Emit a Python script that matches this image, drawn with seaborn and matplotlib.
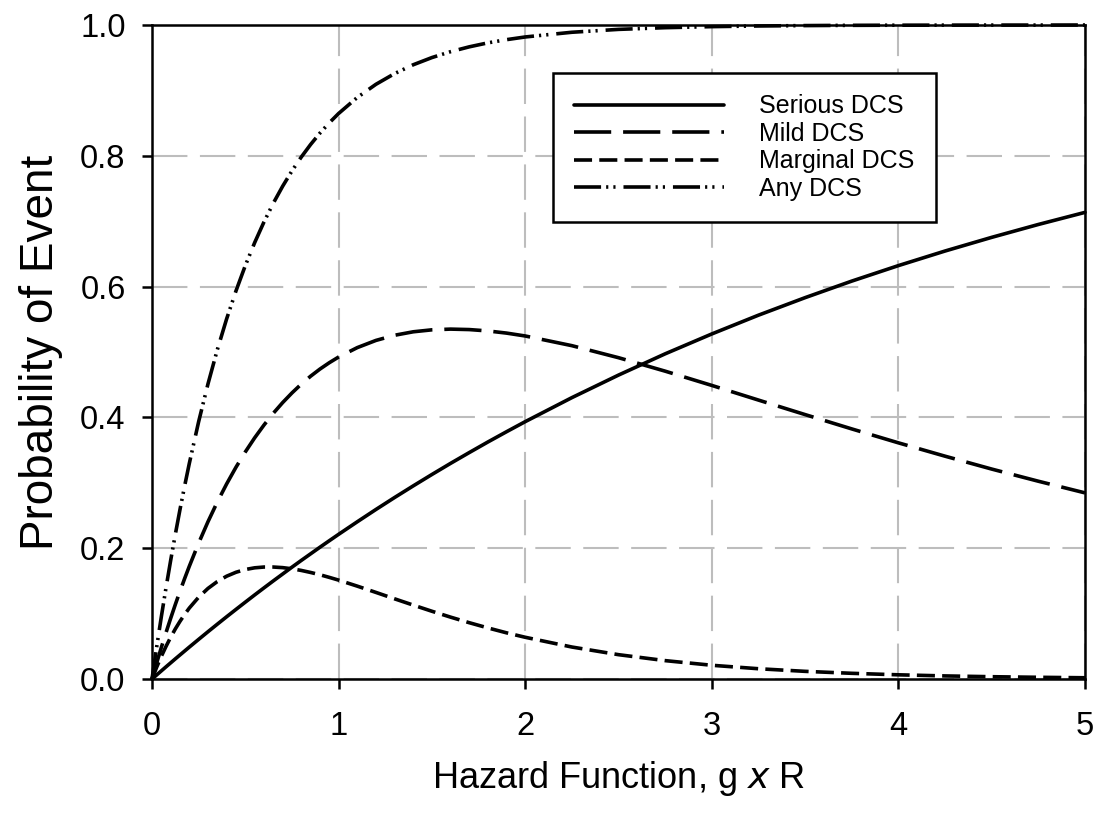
import matplotlib
matplotlib.use("Agg")
import matplotlib.pyplot as plt
import seaborn as sns
import pandas as pd

# x values (hazard function g x R)
x_vals = [0.0, 0.025, 0.05, 0.075, 0.1, 0.125, 0.15, 0.175, 0.2, 0.25, 0.3, 0.35,
          0.4, 0.45, 0.5, 0.55, 0.6, 0.65, 0.7, 0.75, 0.8, 0.85, 0.9, 0.95, 1.0,
          1.1, 1.2, 1.3, 1.4, 1.5, 1.6, 1.7, 1.8, 1.9, 2.0, 2.25, 2.5, 2.75, 3.0,
          3.25, 3.5, 3.75, 4.0, 4.25, 4.5, 4.75, 5.0]
serious = [0.0, 0.0062, 0.0124, 0.0186, 0.0247, 0.0308, 0.0368, 0.0428, 0.0488,
           0.0606, 0.0723, 0.0838, 0.0952, 0.1064, 0.1175, 0.1285, 0.1393, 0.1500,
           0.1605, 0.1710, 0.1813, 0.1914, 0.2015, 0.2114, 0.2212, 0.2404, 0.2592,
           0.2775, 0.2953, 0.3127, 0.3297, 0.3462, 0.3624, 0.3781, 0.3935, 0.4302,
           0.4647, 0.4972, 0.5276, 0.5563, 0.5831, 0.6084, 0.6321, 0.6544, 0.6753,
           0.6950, 0.7135]
mild = [0.0, 0.0245, 0.0482, 0.0709, 0.0928, 0.1139, 0.1342, 0.1537, 0.1724,
        0.2078, 0.2405, 0.2706, 0.2983, 0.3238, 0.3472, 0.3687, 0.3883, 0.4063,
        0.4226, 0.4374, 0.4509, 0.4630, 0.4739, 0.4836, 0.4923, 0.5067, 0.5177,
        0.5256, 0.5309, 0.5339, 0.5350, 0.5343, 0.5322, 0.5289, 0.5245, 0.5097,
        0.4913, 0.4707, 0.4489, 0.4265, 0.4043, 0.3824, 0.3611, 0.3407, 0.3210,
        0.3024, 0.2846]
marginal = [0.0, 0.0180, 0.0346, 0.0498, 0.0638, 0.0766, 0.0882, 0.0988, 0.1085,
            0.1251, 0.1385, 0.1490, 0.1572, 0.1632, 0.1674, 0.1700, 0.1712, 0.1712,
            0.1703, 0.1685, 0.1660, 0.1629, 0.1594, 0.1554, 0.1512, 0.1420, 0.1324,
            0.1226, 0.1130, 0.1036, 0.0946, 0.0861, 0.0781, 0.0706, 0.0638, 0.0489,
            0.0372, 0.0281, 0.0210, 0.0157, 0.0117, 0.0087, 0.0064, 0.0047, 0.0035,
            0.0026, 0.0019]
any_dcs = [0.0, 0.0488, 0.0952, 0.1393, 0.1813, 0.2212, 0.2592, 0.2953, 0.3297,
           0.3935, 0.4512, 0.5034, 0.5507, 0.5934, 0.6321, 0.6671, 0.6988, 0.7275,
           0.7534, 0.7769, 0.7981, 0.8173, 0.8347, 0.8504, 0.8647, 0.8892, 0.9093,
           0.9257, 0.9392, 0.9502, 0.9592, 0.9666, 0.9727, 0.9776, 0.9817, 0.9889,
           0.9933, 0.9959, 0.9975, 0.9985, 0.9991, 0.9995, 0.9997, 0.9998, 0.9999,
           0.9999, 1.0]
series_names = ["Serious DCS", "Mild DCS", "Marginal DCS", "Any DCS"]
x_ticks = [0, 1, 2, 3, 4, 5]
y_ticks = [0.0, 0.2, 0.4, 0.6, 0.8, 1.0]

frames = []
for name, vals in zip(series_names, [serious, mild, marginal, any_dcs]):
    frames.append(pd.DataFrame({"x": x_vals, "y": vals, "series": name}))
df = pd.concat(frames, ignore_index=True)

sns.set_theme(style="white")
plt.rcParams["font.family"] = ["Liberation Sans", "DejaVu Sans"]
plt.rcParams["text.color"] = "black"
plt.rcParams["axes.labelcolor"] = "black"
plt.rcParams["xtick.color"] = "black"
plt.rcParams["ytick.color"] = "black"

fig = plt.figure(figsize=(10.96, 8.17), dpi=100)
ax = fig.add_axes([152/1096, 1 - 679/817, (1085-152)/1096, (679-25)/817])

LW = 2.6
dash_styles = {
    "Serious DCS": "",
    "Mild DCS": (10.3, 3.3),
    "Marginal DCS": (5.0, 2.0),
    "Any DCS": (7.5, 1.4, 0.6, 1.4, 0.6, 2.2),
}
sns.lineplot(data=df, x="x", y="y", hue="series", style="series",
             palette=["black"] * 4, dashes=dash_styles, linewidth=LW,
             ax=ax, legend=True, sort=False, clip_on=False)

ax.set_xlim(0, 5)
ax.set_ylim(0, 1)
ax.set_xticks(x_ticks)
ax.set_xticklabels([str(t) for t in x_ticks])
ax.set_yticks(y_ticks)
ax.set_yticklabels([f"{t:.1f}" for t in y_ticks])

ax.grid(True, color="#bdbdbd", linestyle=(0, (17, 6)), linewidth=1.5, zorder=0)
ax.set_axisbelow(True)
for s in ax.spines.values():
    s.set_visible(True)
    s.set_color("black")
    s.set_linewidth(1.8)

ax.tick_params(axis="both", direction="out", length=7, width=1.8,
               color="black", labelsize=23.5,
               bottom=True, left=True, top=False, right=False)
ax.tick_params(axis="x", pad=16)
ax.tick_params(axis="y", pad=12)

ax.set_xlabel(r"Hazard Function, g $\it{x}$ R", fontsize=26, labelpad=12)
ax.set_ylabel("Probability of Event", fontsize=33, labelpad=12)

handles, labels = ax.get_legend_handles_labels()
leg = ax.legend(handles, labels, loc="upper left",
                bbox_to_anchor=((553-152)/(1085-152), 1 - (73-25)/(679-25)),
                fontsize=18, frameon=True, fancybox=False, edgecolor="black",
                handlelength=6.0, handletextpad=1.4, labelspacing=0.14,
                borderpad=0.85, borderaxespad=0.0)
leg.get_frame().set_linewidth(1.8)
leg.get_frame().set_alpha(1.0)
for h in leg.get_lines():
    h.set_linewidth(LW)

fig.savefig("out.png", dpi=100)
